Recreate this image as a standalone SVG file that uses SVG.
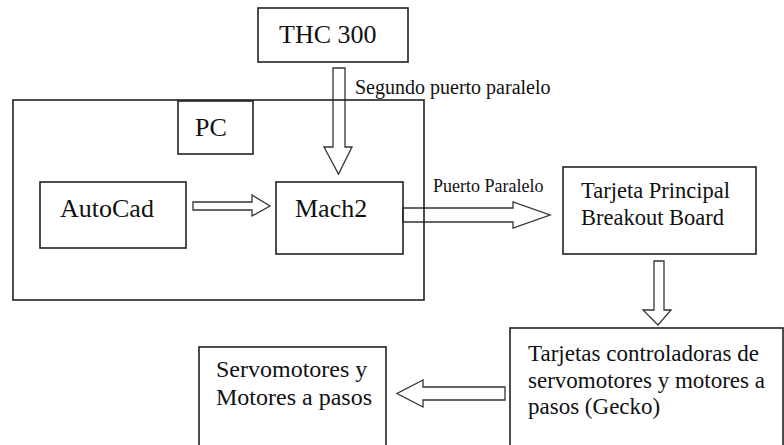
<svg xmlns="http://www.w3.org/2000/svg" width="784" height="445" viewBox="0 0 784 445">
<style>
.box{fill:none;stroke:#222;stroke-width:1.6}
.arr{fill:#fff;stroke:#333;stroke-width:1.3;stroke-linejoin:miter}
</style>
<rect width="784" height="445" fill="#fff"/>
<g id="connectors">
<polygon class="arr" points="333,68 345,68 345,147 352,147 338.5,174 324,147 333,147"/>
<polygon class="arr" points="193,202 252,202 252,195 270,206 252,216 252,210 193,210"/>
<polygon class="arr" points="403,208 513,208 513,202 550,215 513,228 513,222 403,222"/>
<polygon class="arr" points="654,261 664,261 664,310 671,310 658,325 643,310 654,310"/>
<polygon class="arr" points="505,387 505,400 423,400 423,407 397,393.5 423,380 423,387"/>
<text font-family="Liberation Serif" font-size="20" fill="#111" x="355" y="94">Segundo puerto paralelo</text>
<text font-family="Liberation Serif" font-size="18" fill="#111" x="433" y="192">Puerto Paralelo</text>
</g>
<g id="pc">
<rect class="box" x="13" y="100" width="411" height="200"/>
<rect class="box" x="178" y="101" width="75" height="53"/>
<text font-family="Liberation Serif" font-size="26" fill="#111" x="195" y="136">PC</text>
</g>
<g id="thc300">
<rect class="box" x="258" y="8" width="150" height="54"/>
<text font-family="Liberation Serif" font-size="26" fill="#111" x="279" y="43">THC 300</text>
</g>
<g id="autocad">
<rect class="box" x="40" y="182" width="146" height="66"/>
<text font-family="Liberation Serif" font-size="26" fill="#111" x="60" y="217">AutoCad</text>
</g>
<g id="mach2">
<rect class="box" x="276" y="182" width="127" height="72"/>
<text font-family="Liberation Serif" font-size="26" fill="#111" x="295" y="217">Mach2</text>
</g>
<g id="tarjeta-principal">
<rect class="box" x="563" y="167" width="193" height="87"/>
<text font-family="Liberation Serif" font-size="22.5" fill="#111" x="581" y="198">Tarjeta Principal</text>
<text font-family="Liberation Serif" font-size="22.5" fill="#111" x="581" y="225">Breakout Board</text>
</g>
<g id="tarjetas-controladoras">
<rect class="box" x="510" y="328" width="273" height="130"/>
<text font-family="Liberation Serif" font-size="23" fill="#111" x="528" y="361">Tarjetas controladoras de</text>
<text font-family="Liberation Serif" font-size="23" fill="#111" x="528" y="388">servomotores y motores a</text>
<text font-family="Liberation Serif" font-size="23" fill="#111" x="528" y="414">pasos (Gecko)</text>
</g>
<g id="servomotores">
<rect class="box" x="199" y="347" width="187" height="110"/>
<text font-family="Liberation Serif" font-size="24" fill="#111" x="216" y="377">Servomotores y</text>
<text font-family="Liberation Serif" font-size="24" fill="#111" x="216" y="405">Motores a pasos</text>
</g>
</svg>
